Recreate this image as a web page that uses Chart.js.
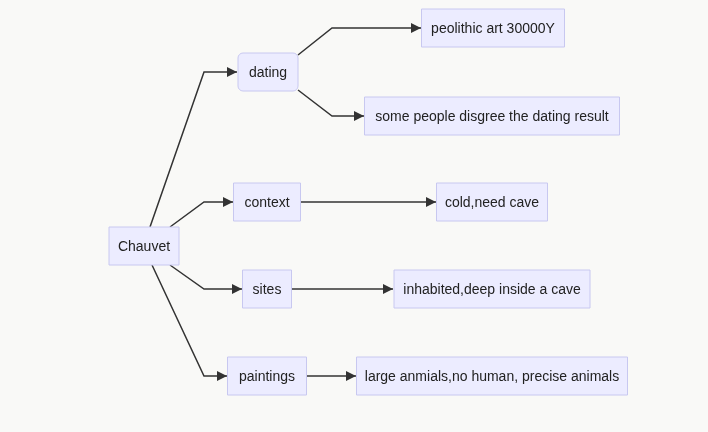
<!DOCTYPE html>
<html>
<head>
<meta charset="utf-8">
<script src="https://cdn.jsdelivr.net/npm/chart.js@4"></script>
<style>
  html, body { margin: 0; padding: 0; background: #f9f9f7; }
  #wrap { width: 708px; height: 432px; }
</style>
</head>
<body>
<div id="wrap"><canvas id="chart"></canvas></div>
<script>
// node labels, centers and sizes in diagram units
const nodeLabels = ['Chauvet', 'dating', 'peolithic art 30000Y', 'some people disgree the dating result',
    'context', 'cold,need cave', 'sites', 'inhabited,deep inside a cave', 'paintings',
    'large anmials,no human, precise animals'];
const nodeX = [144, 268, 493, 492, 267, 492, 267, 492, 267, 492];
const nodeY = [246, 72, 28, 116, 202, 202, 289, 289, 376, 376];
const nodeW = [70, 60, 143, 255, 67, 111, 49, 196, 79, 271];
const nodeRounded = [false, true, false, false, false, false, false, false, false, false];

// edges as polylines
const edgePaths = [
    [[150, 227], [204, 72], [237, 72]],
    [[170, 227], [204, 202], [233, 202]],
    [[170, 265], [204, 289], [242, 289]],
    [[152, 265], [204, 376], [227, 376]],
    [[298, 55], [332, 28], [421, 28]],
    [[298, 90], [332, 116], [364, 116]],
    [[301, 202], [436, 202]],
    [[292, 289], [393, 289]],
    [[307, 376], [356, 376]]
];

const nodeH = 38;

const nodePlugin = {
    id: 'nodes',
    afterDatasetsDraw(chart) {
        const ctx = chart.ctx;
        const xs = chart.scales.x, ys = chart.scales.y;
        ctx.save();
        // arrowheads
        ctx.fillStyle = '#333333';
        edgePaths.forEach(p => {
            const a = p[p.length - 2], b = p[p.length - 1];
            const x1 = xs.getPixelForValue(a[0]), y1 = ys.getPixelForValue(a[1]);
            const x2 = xs.getPixelForValue(b[0]), y2 = ys.getPixelForValue(b[1]);
            const ang = Math.atan2(y2 - y1, x2 - x1);
            ctx.beginPath();
            ctx.moveTo(x2, y2);
            ctx.lineTo(x2 - 10 * Math.cos(ang) + 5 * Math.sin(ang), y2 - 10 * Math.sin(ang) - 5 * Math.cos(ang));
            ctx.lineTo(x2 - 10 * Math.cos(ang) - 5 * Math.sin(ang), y2 - 10 * Math.sin(ang) + 5 * Math.cos(ang));
            ctx.closePath();
            ctx.fill();
        });
        // boxes
        ctx.font = '14px "Liberation Sans", Arial, sans-serif';
        ctx.textAlign = 'center';
        ctx.textBaseline = 'middle';
        nodeLabels.forEach((label, i) => {
            const l = xs.getPixelForValue(nodeX[i] - nodeW[i] / 2);
            const r = xs.getPixelForValue(nodeX[i] + nodeW[i] / 2);
            const t = ys.getPixelForValue(nodeY[i] - nodeH / 2);
            const bt = ys.getPixelForValue(nodeY[i] + nodeH / 2);
            ctx.beginPath();
            if (nodeRounded[i]) ctx.roundRect(l, t, r - l, bt - t, 5);
            else ctx.rect(l, t, r - l, bt - t);
            ctx.fillStyle = '#ececff';
            ctx.fill();
            ctx.strokeStyle = '#c8c8f0';
            ctx.lineWidth = 1;
            ctx.stroke();
            ctx.fillStyle = '#222222';
            ctx.fillText(label, xs.getPixelForValue(nodeX[i]), ys.getPixelForValue(nodeY[i]) + 1);
        });
        ctx.restore();
    }
};

new Chart(document.getElementById('chart'), {
    type: 'scatter',
    data: {
        datasets: edgePaths.map(p => ({
            data: p.map(pt => ({ x: pt[0], y: pt[1] })),
            showLine: true,
            borderColor: '#333333',
            borderWidth: 1.5,
            pointRadius: 0,
            tension: 0
        }))
    },
    options: {
        responsive: true,
        maintainAspectRatio: false,
        animation: false,
        layout: { padding: 0 },
        plugins: { legend: { display: false }, tooltip: { enabled: false } },
        scales: {
            x: { type: 'linear', min: 0, max: 708, display: false },
            y: { type: 'linear', min: 0, max: 432, reverse: true, display: false }
        }
    },
    plugins: [nodePlugin]
});
</script>
</body>
</html>
